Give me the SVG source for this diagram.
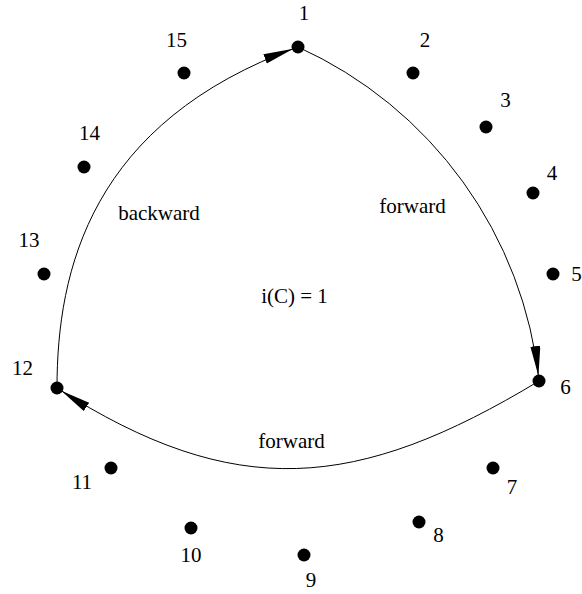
<svg xmlns="http://www.w3.org/2000/svg" width="582" height="594" viewBox="0 0 582 594">
<style>
text{font-family:"Liberation Serif","Times New Roman",serif;font-size:21px;fill:#000;text-anchor:middle}
.dot{fill:#000}
.edge{fill:none;stroke:#000;stroke-width:1}
</style>
<defs>
<marker id="arr" markerUnits="userSpaceOnUse" markerWidth="40" markerHeight="12" refX="35" refY="5" orient="auto">
<path d="M0,0 L30,5 L0,10 Z" fill="#000"/>
</marker>
</defs>
<rect width="582" height="594" fill="#fff"/>
<g id="connectors">
<path class="edge" d="M298,47 A414 414 0 0 1 539,381" marker-end="url(#arr)"/>
<path class="edge" d="M539,381 C357,491 235,502 57,388" marker-end="url(#arr)"/>
<path class="edge" d="M57,388 C57,270 91,122 298,47" marker-end="url(#arr)"/>
</g>
<g id="n1"><circle class="dot" cx="298" cy="47" r="6.5"/><text x="304" y="20">1</text></g>
<g id="n2"><circle class="dot" cx="413" cy="73" r="6.5"/><text x="425" y="47">2</text></g>
<g id="n3"><circle class="dot" cx="486" cy="127" r="6.5"/><text x="505.5" y="107">3</text></g>
<g id="n4"><circle class="dot" cx="533" cy="193" r="6.5"/><text x="552" y="180">4</text></g>
<g id="n5"><circle class="dot" cx="553" cy="274" r="6.5"/><text x="576.5" y="281">5</text></g>
<g id="n6"><circle class="dot" cx="539" cy="381" r="6.5"/><text x="565.5" y="394">6</text></g>
<g id="n7"><circle class="dot" cx="493" cy="468" r="6.5"/><text x="512" y="494">7</text></g>
<g id="n8"><circle class="dot" cx="419" cy="522" r="6.5"/><text x="438.5" y="542">8</text></g>
<g id="n9"><circle class="dot" cx="304" cy="555" r="6.5"/><text x="311" y="587">9</text></g>
<g id="n10"><circle class="dot" cx="191" cy="528" r="6.5"/><text x="191" y="562">10</text></g>
<g id="n11"><circle class="dot" cx="111" cy="468" r="6.5"/><text x="82" y="489">11</text></g>
<g id="n12"><circle class="dot" cx="57" cy="388" r="6.5"/><text x="22.5" y="375">12</text></g>
<g id="n13"><circle class="dot" cx="44" cy="274" r="6.5"/><text x="29" y="247">13</text></g>
<g id="n14"><circle class="dot" cx="84" cy="167" r="6.5"/><text x="89.5" y="140">14</text></g>
<g id="n15"><circle class="dot" cx="184" cy="73" r="6.5"/><text x="176.5" y="47">15</text></g>
<g id="labels">
<text x="159" y="220">backward</text>
<text x="412.5" y="213">forward</text>
<text x="291.5" y="448">forward</text>
<text x="294.5" y="303">i(C) = 1</text>
</g>
</svg>
